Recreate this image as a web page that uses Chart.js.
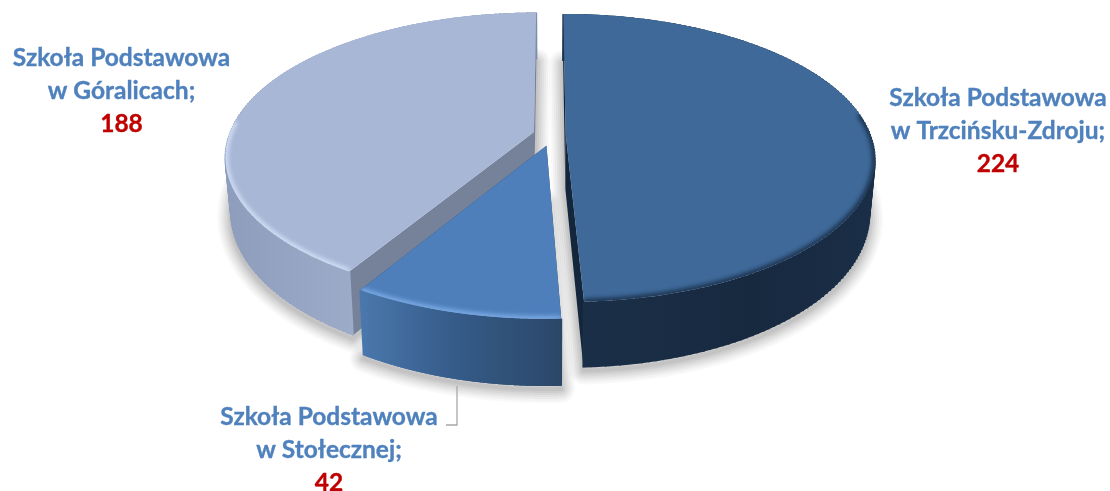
<!DOCTYPE html>
<html><head><meta charset="utf-8">
<style>html,body{margin:0;padding:0;background:#fff;overflow:hidden}#w{width:1110px;height:491px}</style>
<script src="https://cdn.jsdelivr.net/npm/chart.js@4"></script>
</head><body><div id="w"><canvas id="c" width="1110" height="491"></canvas></div>
<script>
const categories = ["Szkoła Podstawowa w Trzcińsku-Zdroju", "Szkoła Podstawowa w Stołecznej", "Szkoła Podstawowa w Góralicach"];
const values = [224, 42, 188];
const labelLines = [["Szkoła Podstawowa", "w Trzcińsku-Zdroju;"], ["Szkoła Podstawowa", "w Stołecznej;"], ["Szkoła Podstawowa", "w Góralicach;"]];
const faceColors = ["#3e6999", "#4e7fbb", "#a8b7d6"];
const explode = [12.5, 20, 12.5];
const nudgeU = [0, 0.011, 0];

const G = {Ax:549.5, R:304.5, Y0:134, b:140, a:0.1667, D:55, shrink:0.982};
function proj(u, v, low){
  const w = 1 - G.a*v;
  let x = G.Ax + G.R*u/w, y = G.Y0 + G.b*v/w;
  if (low){ x = G.Ax + (x-G.Ax)*G.shrink; y += G.D/w; }
  return [x,y];
}
function geom(arc, i){
  const p = arc.getProps(['startAngle','endAngle','outerRadius'], true);
  const off = (arc.options.offset||0)/p.outerRadius, m = (p.startAngle+p.endAngle)/2;
  const du = off*Math.cos(m) + nudgeU[i], dv = off*Math.sin(m);
  const pts = [], n = 300;
  for (let k=0;k<=n;k++){ const t = p.startAngle+(p.endAngle-p.startAngle)*k/n; pts.push([du+Math.cos(t), dv+Math.sin(t)]); }
  return {du,dv,pts};
}
function poly(ctx, list){ ctx.beginPath(); list.forEach((q,i)=> i?ctx.lineTo(q[0],q[1]):ctx.moveTo(q[0],q[1])); ctx.closePath(); }
function sector(g, low){ return [proj(g.du,g.dv,low), ...g.pts.map(q=>proj(q[0],q[1],low))]; }

const wallStops = [
  [[0,"#1b3049"],[0.6,"#17293f"],[1,"#1a2e47"]],
  [[0,"#4a78ad"],[0.45,"#365c8a"],[1,"#2a4768"]],
  [[0,"#8d9dbb"],[0.5,"#a0aecb"],[1,"#7e8ca8"]]
];
const cutColors = ["#14263b","#2c4a6d","#75829a"];
const bevel = [["rgba(14,28,48,0.7)",-0.15],["rgba(130,178,235,0.85)",-1],["rgba(222,234,255,0.75)",-0.1]];

const pie3d = {
  id:'pie3d',
  beforeDatasetDraw(chart,args){
    const ctx = chart.ctx, arcs = chart.getDatasetMeta(0).data, gs = arcs.map(geom), order=[2,0,1];
    // soft cast shadow
    ctx.save();
    ctx.fillStyle='rgba(0,0,0,0.05)';
    gs.forEach(g=>{
      const s=sector(g,true);
      const steps=[[14,0.025],[12,0.03],[10,0.035],[8,0.04],[6,0.045],[4,0.05],[2,0.05]];
      steps.forEach(st=>{
        ctx.lineJoin='round'; ctx.lineWidth=st[0]*2; ctx.strokeStyle='rgba(0,0,0,'+st[1]+')';
        poly(ctx,s.map(q=>[q[0],q[1]+3])); ctx.stroke();
      });
    });
    ctx.restore();
    // walls and cut faces
    order.forEach(i=>{
      const g=gs[i];
      ctx.fillStyle=cutColors[i];
      [g.pts[0],g.pts[g.pts.length-1]].forEach(q=>{
        poly(ctx,[proj(g.du,g.dv,false),proj(q[0],q[1],false),proj(q[0],q[1],true),proj(g.du,g.dv,true)]); ctx.fill();
      });
      const top=g.pts.map(q=>proj(q[0],q[1],false)), bot=g.pts.map(q=>proj(q[0],q[1],true));
      const xs=top.concat(bot).map(q=>q[0]);
      const gr=ctx.createLinearGradient(Math.min(...xs),0,Math.max(...xs),0);
      wallStops[i].forEach(s=>gr.addColorStop(s[0],s[1]));
      ctx.fillStyle=gr; ctx.strokeStyle=gr; ctx.lineWidth=2; ctx.lineCap='butt';
      poly(ctx,top.concat(bot.slice().reverse())); ctx.fill();
      for(let k=0;k<top.length;k+=2){
        ctx.beginPath(); ctx.moveTo(top[k][0],top[k][1]); ctx.lineTo(bot[k][0],bot[k][1]); ctx.stroke();
      }
    });
    // top faces
    order.forEach(i=>{
      const g=gs[i];
      ctx.fillStyle=arcs[i].options.backgroundColor;
      poly(ctx,sector(g,false)); ctx.fill();
      ctx.save();
      poly(ctx,sector(g,false)); ctx.clip();
      ctx.filter='blur(2.2px)'; ctx.lineWidth=6; ctx.lineCap='butt'; ctx.strokeStyle=bevel[i][0];
      ctx.beginPath();
      let pen=false;
      g.pts.forEach(q=>{ if(q[1]>bevel[i][1]){const r=proj(q[0],q[1],false); pen?ctx.lineTo(r[0],r[1]):ctx.moveTo(r[0],r[1]); pen=true;} else pen=false; });
      ctx.stroke();
      ctx.restore();
    });
    return false;
  },
  afterDraw(chart){
    const ctx=chart.ctx;
    // leader line for the small slice
    ctx.save();
    ctx.strokeStyle='#a8a8a8'; ctx.lineWidth=1.3;
    ctx.beginPath(); ctx.moveTo(457,386); ctx.lineTo(457,425); ctx.lineTo(446,425); ctx.stroke();
    ctx.restore();
    const pos=[[998,98],[329,417],[121.5,58]];
    ctx.save();
    ctx.textAlign='center'; ctx.textBaseline='middle';
    ctx.font='bold 24.5px Lato'; ctx.lineWidth=0.35; ctx.lineJoin='round';
    const put=(s,x,y)=>{ctx.fillText(s,x,y); ctx.strokeText(s,x,y);};
    pos.forEach((p,i)=>{
      ctx.fillStyle=ctx.strokeStyle='#4f81bd';
      put(labelLines[i][0],p[0],p[1]);
      put(labelLines[i][1],p[0],p[1]+33);
      ctx.fillStyle=ctx.strokeStyle='#c00000';
      put(String(values[i]),p[0],p[1]+66);
    });
    ctx.restore();
  }
};

new Chart(document.getElementById('c'),{
  type:'pie',
  data:{labels:categories,datasets:[{data:values,backgroundColor:faceColors,borderWidth:0,offset:explode}]},
  options:{responsive:false,animation:false,plugins:{legend:{display:false},tooltip:{enabled:false}},layout:{padding:0}},
  plugins:[pie3d]
});
</script></body></html>
